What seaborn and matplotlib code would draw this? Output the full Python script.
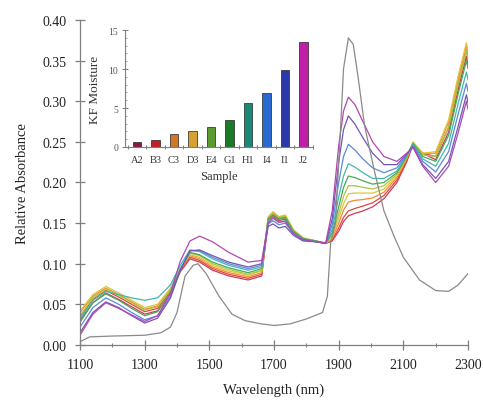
import numpy as np
import pandas as pd
import matplotlib
matplotlib.use("Agg")
import matplotlib.pyplot as plt
from matplotlib.ticker import MultipleLocator, FixedLocator
import seaborn as sns

# ---------------- data ----------------
samples = ["A2", "B3", "C3", "D3", "E4", "G1", "H1", "I4", "I1", "J2"]
kf_moisture = [0.7, 0.9, 1.7, 2.1, 2.6, 3.5, 5.7, 6.9, 9.9, 13.5]

wavelength = [1100, 1140, 1180, 1220, 1260, 1300, 1340, 1380, 1410, 1440,
              1470, 1510, 1560, 1620, 1662, 1682, 1697, 1715, 1735, 1760,
              1790, 1830, 1860, 1880, 1900, 1915, 1930, 1950, 1975, 2005,
              2040, 2080, 2110, 2130, 2160, 2200, 2240, 2270, 2295, 2300]

A2 = [0.030, 0.052, 0.064, 0.056, 0.047, 0.038, 0.042, 0.063, 0.090, 0.106,
      0.102, 0.092, 0.085, 0.080, 0.085, 0.152, 0.158, 0.153, 0.155, 0.139,
      0.130, 0.128, 0.125, 0.128, 0.140, 0.152, 0.159, 0.162, 0.165, 0.170,
      0.180, 0.200, 0.225, 0.247, 0.236, 0.228, 0.262, 0.315, 0.355, 0.345]
B3 = [0.035, 0.056, 0.067, 0.059, 0.050, 0.041, 0.045, 0.066, 0.092, 0.108,
      0.104, 0.094, 0.087, 0.082, 0.087, 0.154, 0.160, 0.155, 0.157, 0.140,
      0.131, 0.128, 0.125, 0.129, 0.144, 0.157, 0.165, 0.168, 0.171, 0.175,
      0.184, 0.203, 0.227, 0.248, 0.236, 0.232, 0.268, 0.322, 0.362, 0.352]
C3 = [0.040, 0.060, 0.070, 0.062, 0.053, 0.044, 0.048, 0.068, 0.093, 0.110,
      0.106, 0.096, 0.089, 0.084, 0.089, 0.156, 0.162, 0.157, 0.158, 0.141,
      0.131, 0.128, 0.125, 0.131, 0.150, 0.166, 0.176, 0.178, 0.179, 0.181,
      0.188, 0.206, 0.229, 0.249, 0.236, 0.236, 0.274, 0.328, 0.368, 0.358]
D3 = [0.042, 0.062, 0.072, 0.064, 0.055, 0.046, 0.050, 0.070, 0.094, 0.111,
      0.108, 0.098, 0.091, 0.086, 0.091, 0.158, 0.164, 0.158, 0.160, 0.142,
      0.132, 0.128, 0.125, 0.133, 0.156, 0.174, 0.186, 0.187, 0.187, 0.187,
      0.192, 0.208, 0.230, 0.250, 0.236, 0.238, 0.277, 0.332, 0.372, 0.362]
E4 = [0.036, 0.058, 0.069, 0.061, 0.052, 0.043, 0.047, 0.068, 0.094, 0.113,
      0.110, 0.100, 0.093, 0.087, 0.092, 0.157, 0.163, 0.157, 0.159, 0.141,
      0.131, 0.128, 0.125, 0.135, 0.162, 0.183, 0.196, 0.196, 0.194, 0.192,
      0.196, 0.210, 0.231, 0.249, 0.234, 0.232, 0.268, 0.322, 0.362, 0.352]
G1 = [0.028, 0.052, 0.063, 0.055, 0.045, 0.036, 0.041, 0.064, 0.093, 0.114,
      0.111, 0.102, 0.095, 0.089, 0.094, 0.155, 0.160, 0.155, 0.157, 0.140,
      0.131, 0.128, 0.125, 0.138, 0.170, 0.194, 0.208, 0.206, 0.202, 0.198,
      0.200, 0.212, 0.232, 0.248, 0.232, 0.226, 0.258, 0.310, 0.350, 0.340]
H1 = [0.032, 0.055, 0.066, 0.062, 0.058, 0.055, 0.058, 0.074, 0.098, 0.117,
      0.115, 0.106, 0.098, 0.092, 0.096, 0.152, 0.157, 0.151, 0.153, 0.138,
      0.130, 0.127, 0.125, 0.142, 0.182, 0.208, 0.223, 0.219, 0.212, 0.205,
      0.205, 0.214, 0.233, 0.247, 0.229, 0.220, 0.248, 0.298, 0.336, 0.326]
I4 = [0.022, 0.046, 0.058, 0.050, 0.040, 0.031, 0.036, 0.060, 0.092, 0.116,
      0.116, 0.108, 0.100, 0.094, 0.098, 0.149, 0.153, 0.148, 0.150, 0.137,
      0.129, 0.127, 0.125, 0.148, 0.200, 0.232, 0.247, 0.240, 0.229, 0.218,
      0.212, 0.218, 0.234, 0.246, 0.226, 0.213, 0.238, 0.285, 0.322, 0.312]
I1 = [0.015, 0.040, 0.053, 0.046, 0.036, 0.027, 0.033, 0.058, 0.092, 0.116,
      0.117, 0.110, 0.102, 0.096, 0.100, 0.146, 0.149, 0.144, 0.146, 0.135,
      0.128, 0.127, 0.125, 0.155, 0.225, 0.265, 0.282, 0.272, 0.255, 0.236,
      0.222, 0.222, 0.235, 0.244, 0.222, 0.205, 0.226, 0.270, 0.308, 0.298]
J2 = [0.012, 0.038, 0.052, 0.045, 0.037, 0.029, 0.036, 0.064, 0.103, 0.128,
      0.134, 0.127, 0.114, 0.102, 0.104, 0.150, 0.156, 0.151, 0.152, 0.137,
      0.130, 0.127, 0.126, 0.165, 0.245, 0.288, 0.305, 0.296, 0.275, 0.250,
      0.232, 0.226, 0.236, 0.243, 0.220, 0.200, 0.220, 0.262, 0.300, 0.290]

ref_wavelength = [1100, 1130, 1200, 1300, 1350, 1380, 1400, 1425, 1450, 1465,
                  1490, 1530, 1570, 1610, 1660, 1700, 1750, 1800, 1850, 1865,
                  1875, 1890, 1905, 1915, 1930, 1945, 1960, 1980, 2010, 2040,
                  2070, 2100, 2150, 2200, 2240, 2270, 2300]
ref_absorbance = [0.004, 0.010, 0.011, 0.012, 0.015, 0.022, 0.040, 0.085, 0.098, 0.100,
                  0.088, 0.060, 0.038, 0.030, 0.026, 0.024, 0.026, 0.032, 0.040, 0.060,
                  0.125, 0.150, 0.260, 0.340, 0.378, 0.370, 0.330, 0.270, 0.215, 0.165,
                  0.135, 0.108, 0.080, 0.067, 0.066, 0.074, 0.088]

x_major_ticks = [1100, 1300, 1500, 1700, 1900, 2100, 2300]
x_minor_ticks = [1200, 1400, 1600, 1800, 2000, 2200]

line_colors = ["#cc3a5e", "#e0463c", "#f08a30", "#e3c23a", "#a8c83c",
               "#48a858", "#40b8b0", "#5a8ad8", "#7454b8", "#b048b0"]
bar_colors = ["#8b1a3a", "#c0202a", "#d07828", "#d8a030", "#5a9a30",
              "#1a7a28", "#1a8a78", "#2a6ad0", "#2a3aa8", "#c020a8"]

series = [A2, B3, C3, D3, E4, G1, H1, I4, I1, J2]

# ---------------- figure ----------------
sns.set_style("ticks")
plt.rcParams["font.family"] = ["Liberation Serif", "DejaVu Serif"]

fig = plt.figure(figsize=(4.83, 4.06), dpi=100)
ax = fig.add_axes([0.1656, 0.1478, 0.8034, 0.8005])

long = pd.DataFrame({
    "Wavelength": np.tile(wavelength, len(samples)),
    "Absorbance": np.concatenate(series),
    "Sample": np.repeat(samples, len(wavelength)),
})
sns.lineplot(data=long, x="Wavelength", y="Absorbance", hue="Sample",
             hue_order=samples, palette=line_colors, estimator=None,
             sort=False, legend=False, linewidth=0.9, ax=ax)
sns.lineplot(x=ref_wavelength, y=ref_absorbance, color="#8a8a8a",
             linewidth=0.9, estimator=None, sort=False, ax=ax)

grey = "#7f7f7f"
ax.set_xlim(1100, 2300)
ax.set_ylim(0, 0.40)
ax.xaxis.set_major_locator(FixedLocator(x_major_ticks))
ax.xaxis.set_minor_locator(FixedLocator(x_minor_ticks))
ax.yaxis.set_major_locator(MultipleLocator(0.05))
ax.yaxis.set_major_formatter(matplotlib.ticker.FormatStrFormatter("%.2f"))
for side in ["top", "right"]:
    ax.spines[side].set_visible(False)
for side in ["left", "bottom"]:
    ax.spines[side].set_color(grey)
    ax.spines[side].set_linewidth(0.9)
ax.tick_params(axis="both", which="major", direction="inout", length=7,
               width=0.9, color=grey, labelsize=10, labelcolor="#222222", pad=6)
ax.tick_params(axis="x", which="minor", direction="inout", length=3,
               width=0.8, color=grey)
ax.set_xlabel("Wavelength (nm)", fontsize=10.5, color="#222222", labelpad=8)
ax.set_ylabel("Relative Absorbance", fontsize=10.5, color="#222222", labelpad=10)

# ---------------- inset ----------------
axin = fig.add_axes([0.2588, 0.6355, 0.389, 0.288])
axin.patch.set_alpha(0)
sns.barplot(x=samples, y=kf_moisture, hue=samples, palette=bar_colors,
            legend=False, width=0.45, saturation=1, edgecolor="#222222",
            linewidth=0.5, ax=axin)
axin.set_xlim(-0.65, 9.5)
axin.set_ylim(0, 15)
axin.yaxis.set_major_locator(MultipleLocator(5))
axin.yaxis.set_minor_locator(MultipleLocator(1))
axin.xaxis.set_minor_locator(FixedLocator([i + 0.5 for i in range(-1, 10)]))
for side in ["top", "right"]:
    axin.spines[side].set_visible(False)
for side in ["left", "bottom"]:
    axin.spines[side].set_color(grey)
    axin.spines[side].set_linewidth(0.8)
axin.tick_params(axis="x", which="major", length=0, labelsize=7.5,
                 labelcolor="#333333", pad=6)
axin.tick_params(axis="x", which="minor", direction="inout", length=3,
                 width=0.7, color=grey)
axin.tick_params(axis="y", which="major", direction="inout", length=4,
                 width=0.7, color=grey, labelsize=7, labelcolor="#555555", pad=3)
axin.tick_params(axis="y", which="minor", direction="in", length=1.5,
                 width=0.5, color=grey)
axin.set_xlabel("Sample", fontsize=9, color="#333333", labelpad=4)
axin.set_ylabel("KF Moisture", fontsize=9.5, color="#333333", labelpad=5)

fig.savefig("out.png", dpi=100)
